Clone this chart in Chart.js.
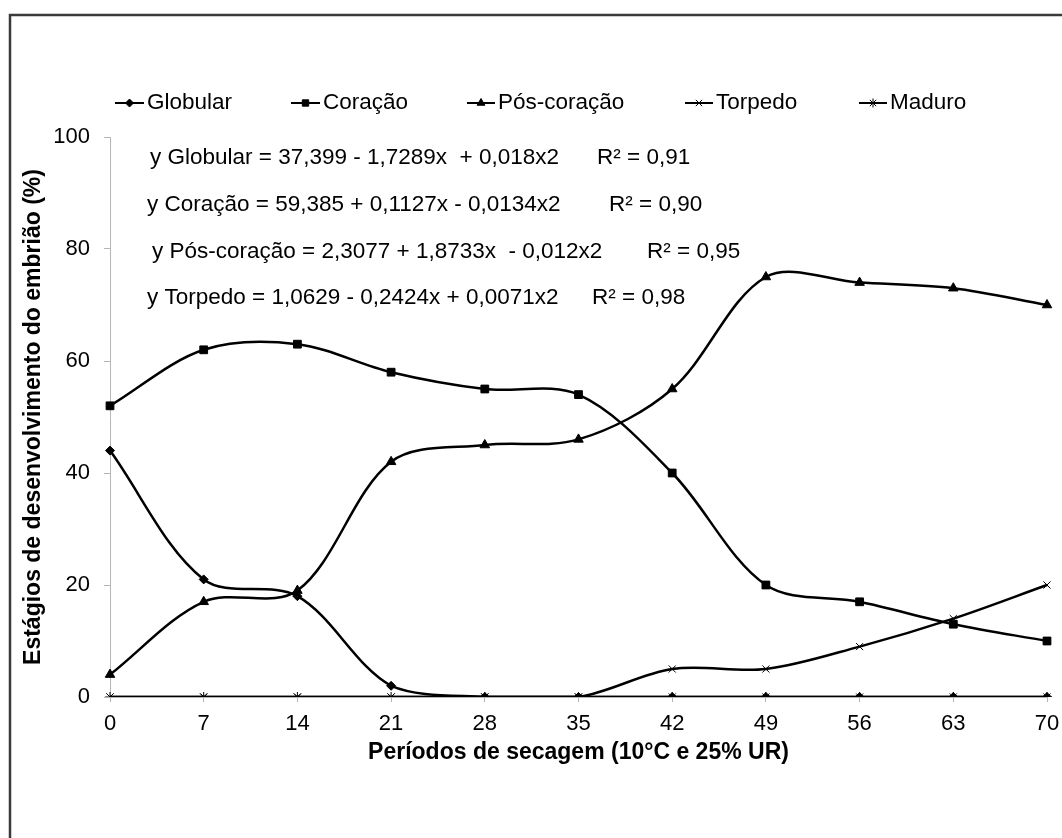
<!DOCTYPE html>
<html>
<head>
<meta charset="utf-8">
<script src="https://cdn.jsdelivr.net/npm/chart.js@4.4.1/dist/chart.umd.min.js"></script>
<style>
  html, body { margin: 0; padding: 0; background: #fff; }
  #wrap { width: 1062px; height: 838px; position: relative; }
</style>
</head>
<body>
<div id="wrap"><canvas id="c" width="1062" height="838"></canvas></div>
<script>
const categories = ['0', '7', '14', '21', '28', '35', '42', '49', '56', '63', '70'];
const globular    = [44, 21, 18, 2, 0, 0, 0, 0, 0, 0, 0];
const coracao     = [52, 62, 63, 58, 55, 54, 40, 20, 17, 13, 10];
const posCoracao  = [4, 17, 19, 42, 45, 46, 55, 75, 74, 73, 70];
const torpedo     = [0, 0, 0, 0, 0, 0, 5, 5, 9, 14, 20];
const maduro      = [0, 0, 0, 0, 0, 0, 0, 0, 0, 0, 0];
const seriesNames = ['Globular', 'Coração', 'Pós-coração', 'Torpedo', 'Maduro'];
const yTicks = [0, 20, 40, 60, 80, 100];
const equations = [
  ['y Globular = 37,399 - 1,7289x  + 0,018x2', 'R² = 0,91'],
  ['y Coração = 59,385 + 0,1127x - 0,0134x2', 'R² = 0,90'],
  ['y Pós-coração = 2,3077 + 1,8733x  - 0,012x2', 'R² = 0,95'],
  ['y Torpedo = 1,0629 - 0,2424x + 0,0071x2', 'R² = 0,98']
];

const FONT = '"Liberation Sans", Arial, sans-serif';
const styles = [
  { pointStyle: 'rectRot', radius: 4.5, legendRadius: 4, borderWidth: 1 },
  { pointStyle: 'rect', radius: 5.5, legendRadius: 4.5, borderWidth: 1 },
  { pointStyle: 'triangle', radius: 5.5, legendRadius: 4.5, borderWidth: 1 },
  { pointStyle: 'crossRot', radius: 5, legendRadius: 4.5, borderWidth: 1 },
  { pointStyle: 'star', radius: 5, legendRadius: 4.5, borderWidth: 1 }
];
const seriesData = [globular, coracao, posCoracao, torpedo, maduro];

const datasets = seriesData.map((d, i) => ({
  label: seriesNames[i],
  data: d,
  borderColor: '#000',
  backgroundColor: '#000',
  borderWidth: 2.5,
  tension: 0.33,
  pointStyle: styles[i].pointStyle,
  pointRadius: styles[i].radius,
  pointBorderWidth: styles[i].borderWidth,
  pointBackgroundColor: '#000',
  pointBorderColor: '#000',
  fill: false
}));

const decorPlugin = {
  id: 'decor',
  afterDraw(chart) {
    const ctx = chart.ctx;
    ctx.save();
    // outer frame
    ctx.strokeStyle = '#3a3a3a';
    ctx.lineWidth = 2.5;
    ctx.beginPath();
    ctx.moveTo(10, 900);
    ctx.lineTo(10, 15);
    ctx.lineTo(1100, 15);
    ctx.stroke();

    // legend
    const legendX = [[115, 147], [291, 323], [467, 498], [685, 716], [859, 890]];
    const ly = 103;
    ctx.font = '22.5px ' + FONT;
    ctx.textBaseline = 'middle';
    ctx.textAlign = 'left';
    seriesNames.forEach((name, i) => {
      const [x0, tx] = legendX[i];
      const x1 = tx - 3;
      ctx.strokeStyle = '#000';
      ctx.fillStyle = '#000';
      ctx.lineWidth = 2;
      ctx.beginPath();
      ctx.moveTo(x0, ly);
      ctx.lineTo(x1, ly);
      ctx.stroke();
      ctx.lineWidth = 1;
      Chart.helpers.drawPoint(ctx, {
        pointStyle: styles[i].pointStyle,
        radius: styles[i].legendRadius,
        rotation: 0,
        borderWidth: 1
      }, (x0 + x1) / 2, ly);
      ctx.fillStyle = '#000';
      ctx.fillText(name, tx, ly);
    });

    // equations
    const eqPos = [[150, 597, 158], [147, 609, 205], [152, 647, 252], [147, 592, 298]];
    ctx.font = '22.5px ' + FONT;
    ctx.fillStyle = '#000';
    equations.forEach((eq, i) => {
      const [x, rx, y] = eqPos[i];
      ctx.fillText(eq[0], x, y);
      ctx.fillText(eq[1], rx, y);
    });
    ctx.restore();
  }
};

new Chart(document.getElementById('c'), {
  type: 'line',
  data: { labels: categories, datasets },
  options: {
    responsive: false,
    animation: false,
    devicePixelRatio: 1,
    layout: { padding: { top: 137, right: 15, bottom: 0, left: 0 } },
    plugins: { legend: { display: false }, tooltip: { enabled: false } },
    scales: {
      x: {
        type: 'category',
        offset: false,
        afterFit(scale) { scale.height = 141; scale.paddingRight = 0; scale.paddingLeft = 0; },
        grid: { drawOnChartArea: false, drawTicks: true, tickLength: 5, color: '#b5b5b5' },
        border: { display: true, color: '#b5b5b5', width: 1 },
        ticks: { color: '#000', font: { family: FONT, size: 22 }, padding: 9, maxRotation: 0, autoSkip: false },
        title: {
          display: true,
          text: 'Períodos de secagem (10°C e 25% UR)',
          color: '#000',
          font: { family: FONT, size: 23, weight: 'bold' },
          padding: { top: 0, bottom: 72 }
        }
      },
      y: {
        min: 0,
        max: 100,
        afterFit(scale) { scale.width = 110; },
        afterBuildTicks(scale) { scale.ticks = yTicks.map(v => ({ value: v })); },
        grid: { drawOnChartArea: false, drawTicks: true, tickLength: 6, color: '#b5b5b5' },
        border: { display: true, color: '#b5b5b5', width: 1 },
        ticks: { color: '#000', font: { family: FONT, size: 22 }, padding: 14 },
        title: {
          display: true,
          text: 'Estágios de desenvolvimento do embrião (%)',
          color: '#000',
          font: { family: FONT, size: 23, weight: 'bold' },
          padding: { top: 20, bottom: 0 }
        }
      }
    }
  },
  plugins: [decorPlugin]
});
</script>
</body>
</html>
